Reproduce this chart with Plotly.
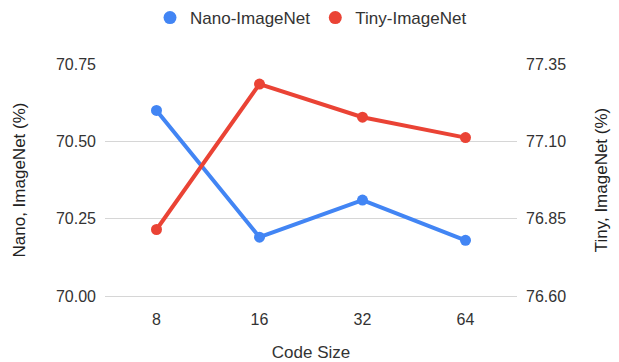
import plotly.graph_objects as go

code_sizes = ["8", "16", "32", "64"]
nano_acc = [70.60, 70.19, 70.31, 70.18]
tiny_acc = [76.815, 77.285, 77.178, 77.112]

left_ticks = [70.00, 70.25, 70.50, 70.75]
right_ticks = [76.60, 76.85, 77.10, 77.35]

BLUE = "#4285F4"
RED = "#EA4335"
FONT = "Arial"
TEXT = "#333333"
GRID = "#d6d6d6"

fig = go.Figure()

fig.add_trace(go.Scatter(
    x=code_sizes, y=nano_acc, mode="lines+markers", name="Nano-ImageNet",
    line=dict(color=BLUE, width=4), marker=dict(color=BLUE, size=11),
    showlegend=False, yaxis="y",
))
fig.add_trace(go.Scatter(
    x=code_sizes, y=tiny_acc, mode="lines+markers", name="Tiny-ImageNet",
    line=dict(color=RED, width=4), marker=dict(color=RED, size=11),
    showlegend=False, yaxis="y2",
))

# legend entries drawn as plain dots
for name, color in [("Nano-ImageNet", BLUE), ("Tiny-ImageNet", RED)]:
    fig.add_trace(go.Scatter(
        x=[None], y=[None], mode="markers", name=name,
        marker=dict(color=color, size=13), showlegend=True,
    ))

fig.update_layout(
    width=619, height=362,
    margin=dict(l=105, r=102, t=64, b=66, autoexpand=False),
    paper_bgcolor="white", plot_bgcolor="white",
    font=dict(family=FONT, size=16, color=TEXT),
    legend=dict(
        orientation="h", x=0.5, xanchor="center", y=1.0, yanchor="top",
        yref="container", font=dict(size=17, color=TEXT),
        itemwidth=30, tracegroupgap=0,
    ),
    xaxis=dict(
        type="category", range=[-0.5, 3.5], showgrid=False, zeroline=False,
        showline=True, linecolor=GRID, linewidth=1, automargin=False,
        ticks="", ticklabelstandoff=9,
        title=dict(text="Code Size", font=dict(size=17, color=TEXT), standoff=26),
    ),
    yaxis=dict(
        range=[70.0, 70.75], tickvals=left_ticks,
        ticktext=[f"{v:.2f}" for v in left_ticks], automargin=False,
        showgrid=True, gridcolor=GRID, gridwidth=1,
        zeroline=False, showline=False, ticks="", ticklabelstandoff=8,
        title=dict(text="Nano, ImageNet (%)", font=dict(size=17, color="#222222"), standoff=26),
    ),
    yaxis2=dict(
        range=[76.60, 77.35], tickvals=right_ticks,
        ticktext=[f"{v:.2f}" for v in right_ticks], automargin=False,
        overlaying="y", side="right", showgrid=False,
        zeroline=False, showline=False, ticks="", ticklabelstandoff=8,
        title=dict(text="Tiny, ImageNet (%)", font=dict(size=17, color="#222222"), standoff=29),
    ),
)

fig.write_html("out.html")
